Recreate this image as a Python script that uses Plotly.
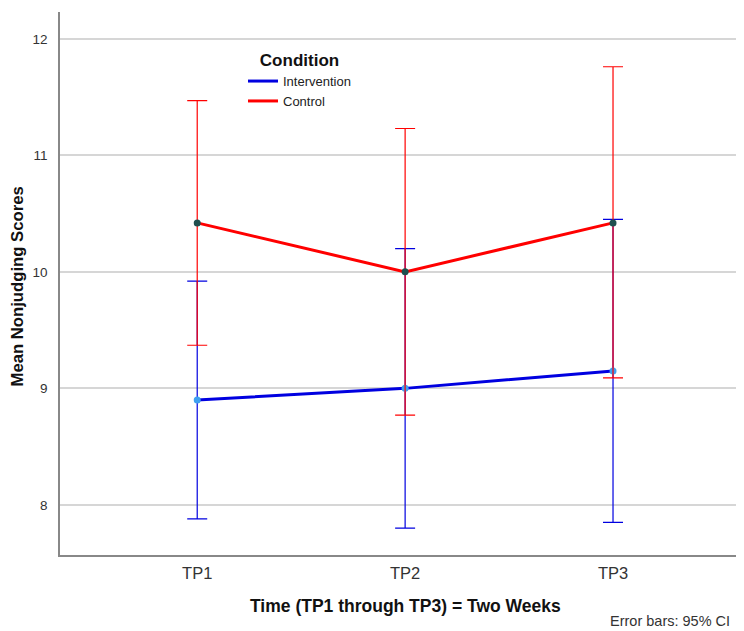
import plotly.graph_objects as go

time_points = ["TP1", "TP2", "TP3"]

intervention_mean = [8.90, 9.00, 9.15]
intervention_upper = [9.92, 10.20, 10.45]
intervention_lower = [7.88, 7.80, 7.85]

control_mean = [10.42, 10.00, 10.42]
control_upper = [11.47, 11.23, 11.76]
control_lower = [9.37, 8.77, 9.09]

FONT = "Liberation Sans, Arial, sans-serif"

fig = go.Figure()

def add_series(name, mean, upper, lower, color, marker_color):
    fig.add_trace(go.Scatter(
        x=time_points, y=mean, mode="lines+markers", name=name,
        line=dict(color=color, width=3),
        marker=dict(color=marker_color, size=7),
        error_y=dict(type="data", symmetric=False,
                     array=[u - m for u, m in zip(upper, mean)],
                     arrayminus=[m - l for m, l in zip(mean, lower)],
                     color=color, thickness=1.2, width=10),
        showlegend=False,
    ))
    fig.add_trace(go.Scatter(
        x=[None], y=[None], mode="lines", name=name,
        line=dict(color=color, width=3), showlegend=True,
    ))

add_series("Intervention", intervention_mean, intervention_upper, intervention_lower, "#0000e0", "#3fa0f0")
add_series("Control", control_mean, control_upper, control_lower, "#ff0000", "#1f4f4f")

# page has an 8px body margin; figure is sized to fill the rest of the window
W, H = 736, 623
L, T, B = 52, 4, 76
PW, PH = W - L, H - T - B

fig.update_layout(
    width=W, height=H,
    margin=dict(l=L, r=0, t=T, b=B),
    paper_bgcolor="white", plot_bgcolor="white",
    font=dict(family=FONT, color="#222"),
    xaxis=dict(type="category", range=[-0.66, 2.63],
               showgrid=False, showline=True, linecolor="#888", linewidth=1.5,
               ticks="", tickfont=dict(size=16.5, color="#333"), ticklabelstandoff=2),
    yaxis=dict(range=[7.57, 12.23], tickvals=[8, 9, 10, 11, 12],
               showgrid=True, gridcolor="#d6d6d6", gridwidth=1.5,
               showline=True, linecolor="#888", linewidth=1.5, zeroline=False,
               ticks="", tickfont=dict(size=13.5, color="#333"), ticklabelstandoff=8),
    legend=dict(x=(235 - L) / PW, y=1 - (36 - T) / PH, xanchor="left", yanchor="top",
                bgcolor="rgba(0,0,0,0)", font=dict(size=13, color="#222"),
                title=dict(text="<b>Condition</b>", side="top center",
                           font=dict(size=17, color="#111")),
                tracegroupgap=0),
    annotations=[
        dict(text="<b>Mean Nonjudging Scores</b>", xref="paper", yref="paper",
             x=0, y=0.5, xanchor="center", yanchor="middle", xshift=-(L - 9), yshift=-3,
             textangle=-90, showarrow=False,
             font=dict(size=16.7, color="#111")),
        dict(text="<b>Time (TP1 through TP3) = Two Weeks</b>", xref="x", yref="paper",
             x="TP2", y=0, yshift=-51, yanchor="middle", showarrow=False,
             font=dict(size=17.5, color="#111")),
        dict(text="Error bars: 95% CI", xref="paper", yref="paper",
             x=1, y=0, xanchor="right", xshift=-12, yshift=-66, yanchor="middle",
             showarrow=False, font=dict(size=14.5, color="#333")),
    ],
)

fig.write_html("out.html")
